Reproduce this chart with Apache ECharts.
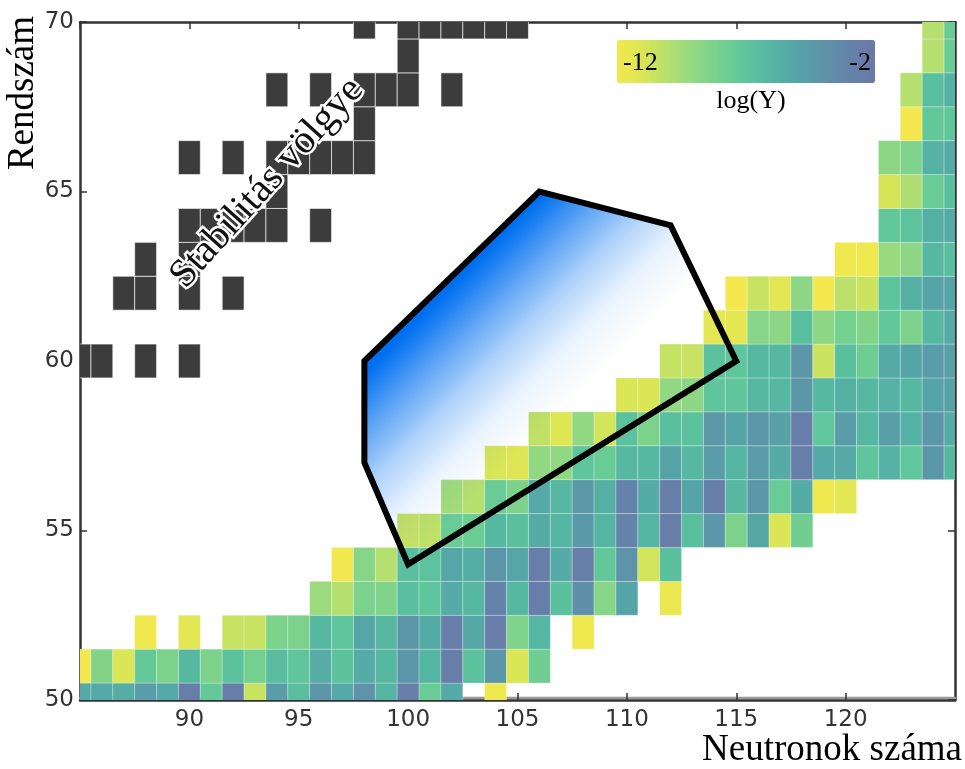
<!DOCTYPE html>
<html><head><meta charset="utf-8">
<script src="https://cdn.jsdelivr.net/npm/echarts@6/dist/echarts.min.js"></script>
<style>html,body{margin:0;padding:0;background:#fff}#c{width:965px;height:769px}</style>
</head><body><div id="c"></div>
<script>
// ---- data: log10 yield per nuclide, one array per proton number Z, starting at rowFirstN ----
const rowZ      = [50,51,52,53,54,55,56,57,58,59,60,61,62,63,64,65,66,67,68,69,70];
const rowFirstN = [85,85,88,96,97,100,102,104,106,110,112,114,115,120,122,122,122,123,123,124,124];
const row50 = [-5.3,-5.3,-5.5,-4.5,-5.3,-2.5,-7.3,-2.5,-10.5,-4.5,-6.6,-4.2,-5.3,-4.0,-6.0,-2.5,-7.5,-5.3,null,-11.8];
const row51 = [-12,-8.5,-11,-7.3,-8.3,-6.2,-8.3,-6.8,-8.0,-6.5,-7.0,-5.5,-6.8,-5.4,-6.2,-4.2,-6.0,-2.5,-6.8,-4.2,-11,-7.8];
const row52 = [-11.8,null,-11.3,null,-10.5,-10.5,-8.3,-8.3,-6.2,-7.0,-5.1,-6.2,-4.2,-5.4,-2.5,-5.2,-2.5,-8.4,-6.1,null,-11.8];
const row53 = [-9.3,-10,-8.2,-8.4,-6.6,-7.0,-5.4,-6.2,-3.0,-6.2,-2.5,-6.7,-3.8,-8.6,-5.0,null,-11.6];
const row54 = [-11.9,-8.6,-10,-6.6,-6.9,-5.2,-5.6,-4.2,-5.1,-2.5,-5.4,-2.5,-7.2,-4.0,-10.8,-6.7];
const row55 = [-10.5,-10.3,-7.5,-7.6,-6.2,-6.7,-5.4,-6.0,-4.4,-6.0,-3.0,-6.0,-2.5,-6.6,-4.2,-8.3,-5.2,-11,-7.8];
const row56 = [-9.5,-10,-7.5,-8.3,-5.3,-6.2,-4.3,-5.7,-3.0,-5.4,-2.5,-5.0,-2.5,-6.2,-4.2,-7.5,-5.4,-11.8,-11.3];
const row57 = [-11,-11.2,-9,-9,-7,-7.5,-6.2,-6.2,-5,-6.2,-4.5,-6,-4.5,-5.4,-2.5,-5.3,-5.3,-7,-5.8,-7.1,-4.2,-6.2];
const row58 = [-10.3,-11.2,-9,-10.8,-6.8,-8.3,-6.6,-6.8,-4.3,-5,-4.2,-4.8,-2.5,-7.1,-4.5,-6.2,-4.7,-5.8,-4.2,-5.4];
const row59 = [-11,-11,-9,-8.8,-7,-7,-6.2,-6.2,-4.2,-6.2,-5.7,-6.2,-5.8,-6.2,-5,-4.8];
const row60 = [-10.4,-10.5,-6.8,-7,-6.2,-6.2,-4.2,-10.6,-6.7,-7.7,-5.3,-5,-4.6,-4.8];
const row61 = [-11.3,-11.4,-8.6,-8.8,-6.6,-8.8,-8,-8.5,-7.2,-8.3,-6.2,-5.4];
const row62 = [-12,-10.5,-11.3,-8.8,-12,-10.2,-10.6,-6.9,-5.7,-5,-5];
const row63 = [-11.8,-11.8,-9.2,-8.8,-6.2,-6.6];
const row64 = [-7.2,-6.9,-5.7,-5.4];
const row65 = [-10.9,-9.8,-7.5,-6.6];
const row66 = [-8.8,-8.4,-5.8,-5.4];
const row67 = [-12,-7.2,-7.1];
const row68 = [-10,-6.6,-5.8];
const row69 = [-10,-7.5];
const row70 = [-10,-7.5];
const rows = [row50,row51,row52,row53,row54,row55,row56,row57,row58,row59,row60,row61,row62,row63,row64,row65,row66,row67,row68,row69,row70];

// stable nuclides (valley of stability)
const stableN = [85,86,88,90, 87,88,90,92, 88,90, 90,91,92,93,94,96, 94, 90,92,94,95,96,97,98, 98, 94,96,98,99,100,102, 100, 98,100,101,102,103,104,105];
const stableZ = [60,60,60,60, 62,62,62,62, 63,63, 64,64,64,64,64,64, 65, 66,66,66,66,66,66,66, 67, 68,68,68,68,68,68, 69, 70,70,70,70,70,70,70];

// highlighted region (polygon vertices, N / Z)
const polyN = [98,106,112,115,100,98];
const polyZ = [60,65,64,60,54,57];

// axis ticks
const xMin = 85, xMax = 125, yMin = 50, yMax = 70, tickStep = 5;
const cbMin = -12, cbMax = -2;

// ---- build ----
const cells = [];
rows.forEach((r, i) => r.forEach((v, j) => { if (v !== null) cells.push([rowFirstN[i] + j, rowZ[i], v]); }));
const stable = stableN.map((n, i) => [n, stableZ[i]]);

const serif = '"Liberation Serif","Times New Roman",serif';
const axisCol = '#333';

function cellRect(params, api, fill, stroke) {
  const n = api.value(0), z = api.value(1);
  const p0 = api.coord([n - 0.5, z + 0.5]);
  const p1 = api.coord([n + 0.5, z - 0.5]);
  return { type: 'rect', shape: { x: p0[0], y: p0[1], width: p1[0] - p0[0], height: p1[1] - p0[1] },
           style: { fill: fill || api.visual('color'), stroke: stroke, lineWidth: 1 } };
}

const chart = echarts.init(document.getElementById('c'), null, { renderer: 'canvas' });
chart.setOption({
  animation: false,
  backgroundColor: '#fff',
  grid: { left: 80, top: 22, width: 875, height: 678, containLabel: false },
  xAxis: [
    { type: 'value', min: xMin, max: xMax, interval: tickStep, position: 'bottom',
      axisLine: { lineStyle: { color: axisCol, width: 2.5, shadowColor: '#999', shadowOffsetY: -2.5 } },
      axisTick: { inside: true, length: 7, lineStyle: { color: axisCol, width: 1.5 } },
      axisLabel: { showMinLabel: false, showMaxLabel: false, fontFamily: 'DejaVu Sans', fontSize: 23, color: '#333', margin: 9 },
      splitLine: { show: false } },
    { type: 'value', min: xMin, max: xMax, interval: tickStep, position: 'top',
      axisLine: { lineStyle: { color: axisCol, width: 2.5 } },
      axisTick: { inside: true, length: 7, lineStyle: { color: axisCol, width: 1.5 } },
      axisLabel: { show: false }, splitLine: { show: false } }
  ],
  yAxis: [
    { type: 'value', min: yMin, max: yMax, interval: tickStep, position: 'left',
      axisLine: { lineStyle: { color: axisCol, width: 2.5 } },
      axisTick: { inside: true, length: 7, lineStyle: { color: axisCol, width: 1.5 } },
      axisLabel: { fontFamily: 'DejaVu Sans', fontSize: 23, color: '#333', margin: 6 },
      splitLine: { show: false } },
    { type: 'value', min: yMin, max: yMax, interval: tickStep, position: 'right',
      axisLine: { lineStyle: { color: axisCol, width: 2.5 } },
      axisTick: { inside: true, length: 7, lineStyle: { color: axisCol, width: 1.5 } },
      axisLabel: { show: false }, splitLine: { show: false } }
  ],
  visualMap: {
    type: 'continuous', min: cbMin, max: cbMax, seriesIndex: 0, dimension: 2,
    orient: 'horizontal', left: 617, top: 40, itemWidth: 43, itemHeight: 258,
    padding: 0, calculable: false, hoverLink: false,
    inRange: { color: ['#f5e84e','#dae655','#b5df6e','#92d883','#74d08f','#5ec59c','#55b5a3','#55a4a7','#5e93a9','#6483aa','#6a78a8'] }
  },
  series: [
    { type: 'custom', coordinateSystem: 'cartesian2d', clip: true, silent: true, z: 2,
      encode: { x: 0, y: 1 }, data: cells,
      renderItem: (p, api) => cellRect(p, api, null, 'rgba(255,255,255,0.25)') },
    { type: 'custom', coordinateSystem: 'cartesian2d', clip: true, silent: true, z: 2,
      encode: { x: 0, y: 1 }, data: stable,
      renderItem: (p, api) => cellRect(p, api, '#3c3c3c', 'rgba(255,255,255,0.6)') },
    { type: 'custom', coordinateSystem: 'cartesian2d', clip: true, silent: true, z: 4,
      data: [[polyN[0], polyZ[0]]],
      renderItem: (p, api) => ({
        type: 'polygon',
        shape: { points: polyN.map((n, i) => api.coord([n, polyZ[i]])) },
        style: {
          fill: { type: 'linear', x: 0, y: 0, x2: 1, y2: 1, global: false,
            colorStops: [ { offset: 0, color: 'rgba(0,96,238,1)' }, { offset: 0.25, color: 'rgba(0,112,240,1)' },
                          { offset: 0.33, color: 'rgba(0,112,240,0.62)' }, { offset: 0.4, color: 'rgba(0,112,240,0.32)' },
                          { offset: 0.48, color: 'rgba(0,112,240,0.08)' }, { offset: 0.56, color: 'rgba(0,112,240,0)' },
                          { offset: 1, color: 'rgba(0,112,240,0)' } ] },
          stroke: '#000', lineWidth: 6, lineJoin: 'miter'
        }
      }) }
  ],
  graphic: [
    { type: 'text', x: 267, y: 183, rotation: 48 * Math.PI / 180, z: 100,
      style: { text: 'Stabilitás völgye', font: '40px ' + serif, fill: '#111', stroke: '#fff', lineWidth: 5, strokeFirst: true,
               align: 'center', verticalAlign: 'middle', shadowColor: 'rgba(0,0,0,0.9)', shadowBlur: 2 } },
    { type: 'text', x: 23, y: 93, rotation: Math.PI / 2, z: 100,
      style: { text: 'Rendszám', font: '37px ' + serif, fill: '#000', align: 'center', verticalAlign: 'middle' } },
    { type: 'text', x: 962, y: 750, z: 100,
      style: { text: 'Neutronok száma', font: '37px ' + serif, fill: '#000', align: 'right', verticalAlign: 'middle' } },
    { type: 'text', x: 623, y: 63, z: 100,
      style: { text: String(cbMin), font: '26px ' + serif, fill: '#000', align: 'left', verticalAlign: 'middle' } },
    { type: 'text', x: 871, y: 63, z: 100,
      style: { text: String(cbMax), font: '26px ' + serif, fill: '#000', align: 'right', verticalAlign: 'middle' } },
    { type: 'text', x: 751, y: 101, z: 100,
      style: { text: 'log(Y)', font: '26px ' + serif, fill: '#000', align: 'center', verticalAlign: 'middle' } }
  ]
});
</script></body></html>
